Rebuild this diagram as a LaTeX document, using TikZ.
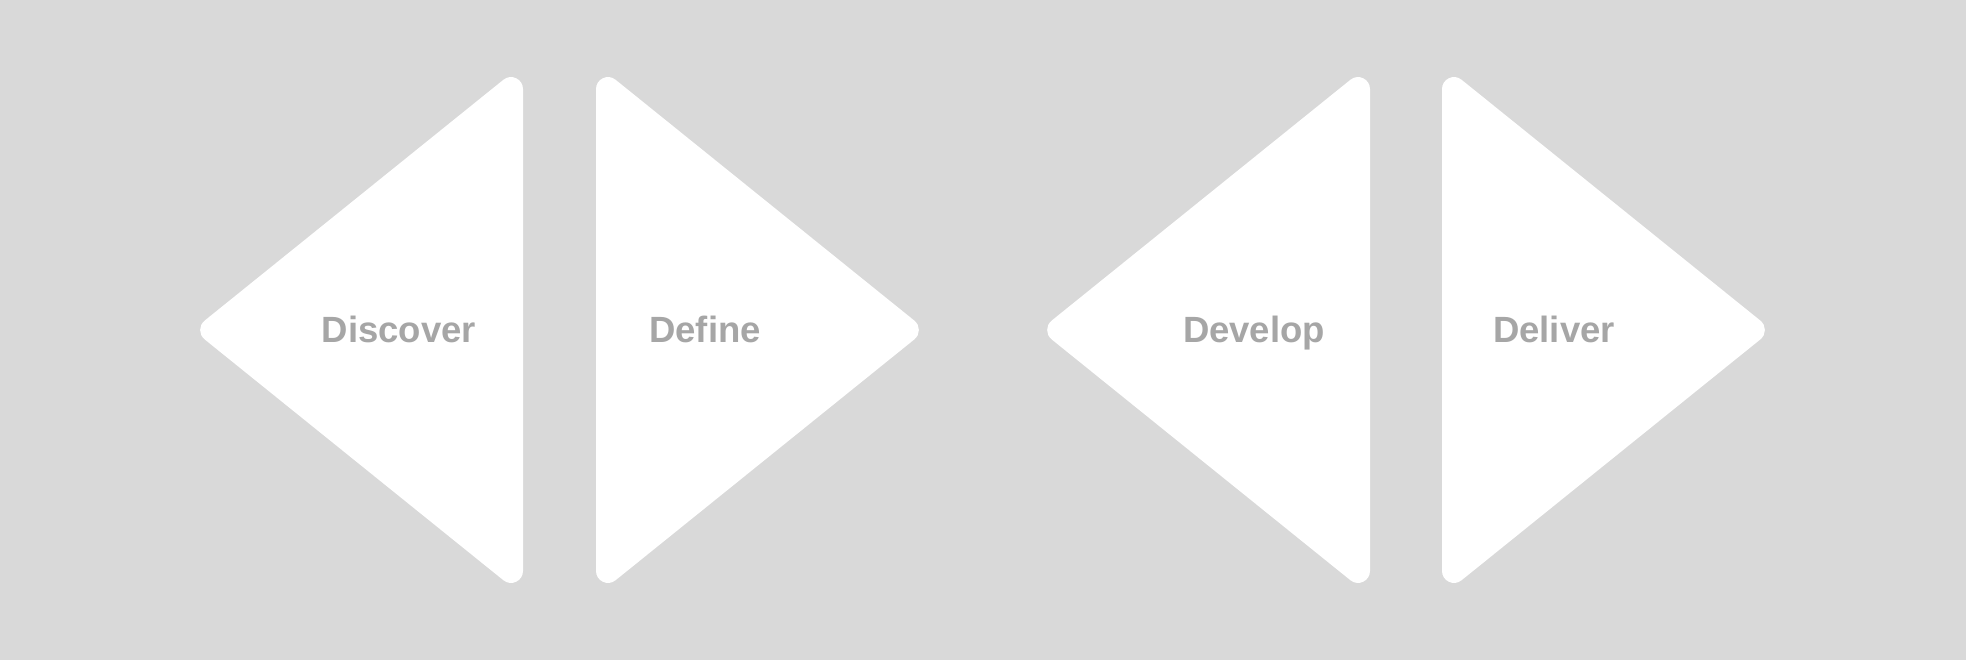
\documentclass[tikz,border=0pt]{standalone}
\usepackage{fontspec}
\setmainfont{Liberation Sans}
\definecolor{bg}{HTML}{D9D9D9}
\definecolor{lbl}{HTML}{A6A6A6}
\newcommand\phasetri{%
  (0,-240.93) .. controls (0,-251.0) and (11.68,-256.59) .. (19.52,-250.27)
  -- (318.40,-9.35) .. controls (324.36,-4.54) and (324.36,4.54) .. (318.40,9.35)
  -- (19.52,250.27) .. controls (11.68,256.59) and (0,251.0) .. (0,240.93) -- cycle}
\begin{document}
\begin{tikzpicture}[x=1pt,y=-1pt,
  tri/.style={fill=white,draw=none},
  phase/.style={anchor=base,text=lbl,inner sep=0pt,font=\fontsize{36.5}{36.5}\selectfont\bfseries}]
\fill[bg] (0,0) rectangle (1966,660);
\useasboundingbox (0,0) rectangle (1966,660);
% triangles
\begin{scope}[shift={(523,330)},xscale=-1]\path[tri] \phasetri;\end{scope}
\begin{scope}[shift={(596,330)}]\path[tri] \phasetri;\end{scope}
\begin{scope}[shift={(1370,330)},xscale=-1]\path[tri] \phasetri;\end{scope}
\begin{scope}[shift={(1442,330)}]\path[tri] \phasetri;\end{scope}
% labels
\node[phase] (discover) at (399,343) {Discover};
\node[phase] (define) at (705,343) {Define};
\node[phase] (develop) at (1254,343) {Develop};
\node[phase] (deliver) at (1554,343) {Deliver};
\end{tikzpicture}
\end{document}
